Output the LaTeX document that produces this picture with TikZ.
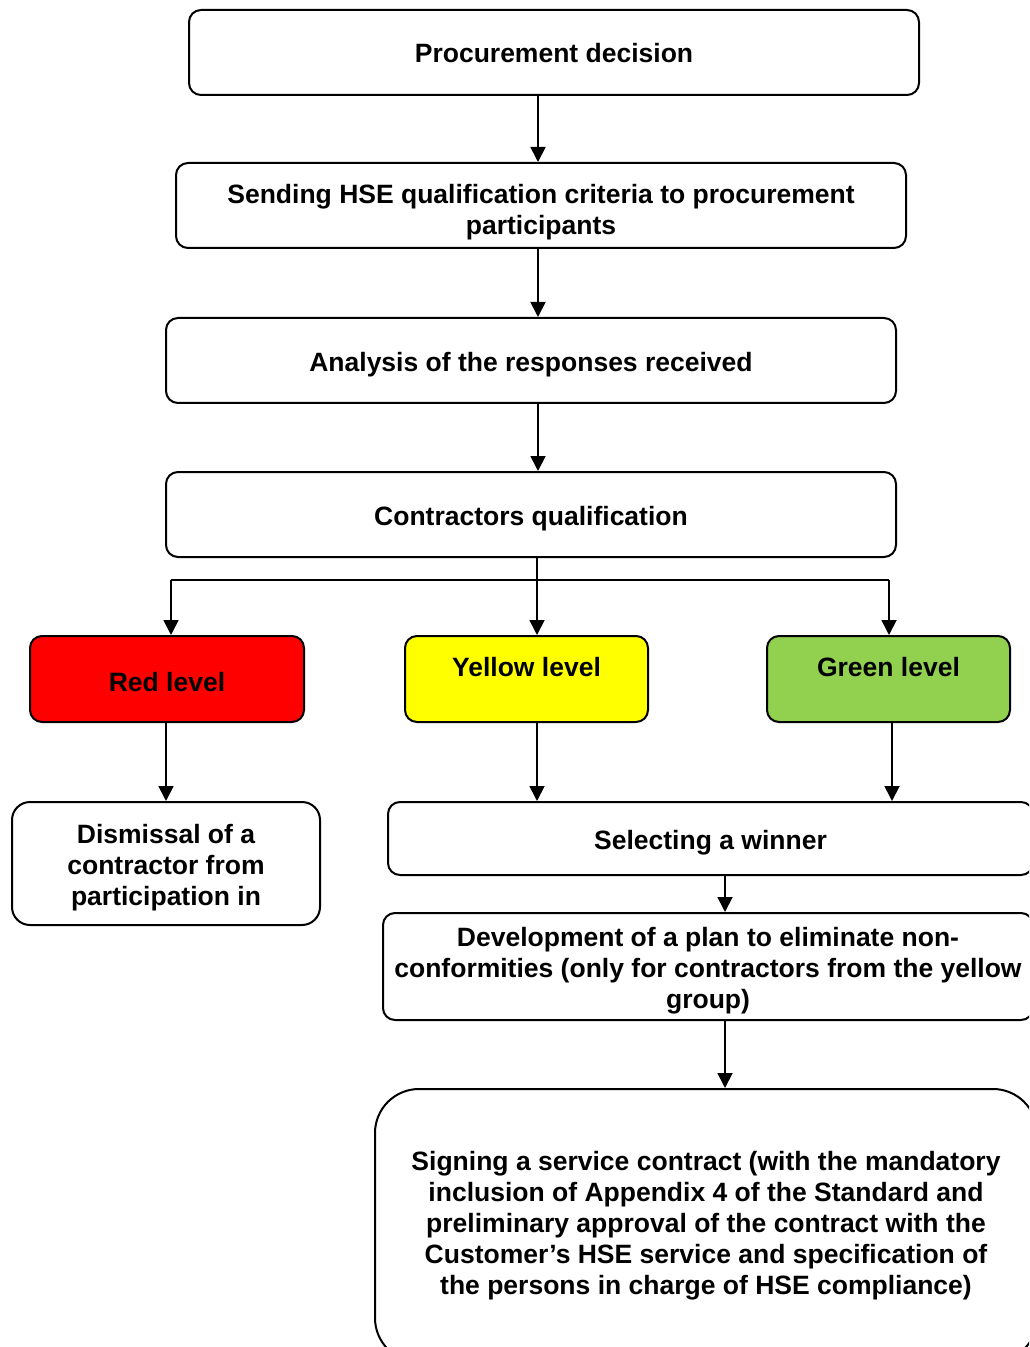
\documentclass[tikz,border=0pt]{standalone}
\usepackage{fontspec}
\setmainfont{Liberation Sans}
\usetikzlibrary{arrows.meta}
\definecolor{lvlred}{RGB}{255,0,0}
\definecolor{lvlyellow}{RGB}{255,255,0}
\definecolor{lvlgreen}{RGB}{146,208,80}
\begin{document}
\begin{tikzpicture}[x=0.5pt,y=-0.5pt,
  txtdown/.style={/utils/exec={\def\txth{#1}}},
  box/.style={draw, line width=1pt, rounded corners=6pt, align=center, inner sep=0pt,
    font=\fontsize{13.25}{15.5}\selectfont\bfseries, txtdown=0pt,
    execute at begin node={\rule{0pt}{\txth}}},
  arr/.style={-{Triangle[width=7.5pt,length=7.5pt]}, line width=0.9pt}]
\pgfmathsetmacro{\boxw}{365};
\pgfmathsetmacro{\boxh}{42.5};
\clip (0,0) rectangle (1029,1347);
\begin{scope}
\node[box, txtdown=9.7pt, minimum width=\boxw pt, minimum height=\boxh pt] (proc) at (554,52.5) {Procurement decision};
\node[box, minimum width=\boxw pt, minimum height=\boxh pt] (send) at (541,205.5) {\mbox{}\\[1.2pt]Sending HSE qualification criteria to procurement\\participants};
\node[box, txtdown=13.7pt, minimum width=\boxw pt, minimum height=\boxh pt] (anal) at (531,360.5) {Analysis of the responses received};
\node[box, txtdown=13.7pt, minimum width=\boxw pt, minimum height=\boxh pt] (qual) at (531,514.5) {Contractors qualification};
\coordinate (mid) at (538,0);
\draw[arr] (proc.south -| mid) -- (send.north -| mid);
\draw[arr] (send.south -| mid) -- (anal.north -| mid);
\draw[arr] (anal.south -| mid) -- (qual.north -| mid);
\end{scope}
% three levels
\begin{scope}
\node[box, txtdown=12.7pt, fill=lvlred, minimum width=137pt, minimum height=43pt] (red) at (167,679) {Red level};
\node[box, fill=lvlyellow, minimum width=121.5pt, minimum height=43pt] (yellow) at (526.5,679) {Yellow level\\[-3pt]\mbox{}};
\node[box, fill=lvlgreen, minimum width=121.5pt, minimum height=43pt] (green) at (888.5,679) {Green level\\[-3pt]\mbox{}};
\coordinate (fork) at (537,580);
\coordinate (lb) at (171,580);
\coordinate (rb) at (889,580);
\draw[line width=0.9pt] (qual.south -| fork) -- (fork);
\draw[line width=0.9pt] (lb) -- (rb);
\draw[arr] (lb) -- (red.north -| lb);
\draw[arr] (fork) -- (yellow.north -| fork);
\draw[arr] (rb) -- (green.north -| rb);
\end{scope}
\begin{scope}
\node[box, rounded corners=9pt, minimum width=154pt, minimum height=61.5pt] (dism) at (166,863.5) {\mbox{}\\[-1.8pt]Dismissal of a\\contractor from\\participation in};
\node[box, txtdown=13.7pt, minimum width=322.5pt, minimum height=36.5pt] (select) at (710.5,838.5) {Selecting a winner};
\node[box, minimum width=325pt, minimum height=53.5pt] (devel) at (708,966.5) {\mbox{}\\[-1.8pt]Development of a plan to eliminate non-\\conformities (only for contractors from the yellow\\group)};
\node[box, rounded corners=22pt, minimum width=331pt, minimum height=136.5pt] (sign) at (706,1225.5) {Signing a service contract (with the mandatory\\inclusion of Appendix 4 of the Standard and\\preliminary approval of the contract with the\\Customer’s HSE service and specification of\\the persons in charge of HSE compliance)};
\coordinate (mid2) at (725,0);
\coordinate (gr) at (892,0);
\draw[arr] (red.south -| dism.north) -- (dism.north);
\draw[arr] (yellow.south -| fork) -- (select.north -| fork);
\draw[arr] (green.south -| gr) -- (select.north -| gr);
\draw[arr] (select.south -| mid2) -- (devel.north -| mid2);
\draw[arr] (devel.south -| mid2) -- (sign.north -| mid2);
\end{scope}
\end{tikzpicture}
\end{document}
